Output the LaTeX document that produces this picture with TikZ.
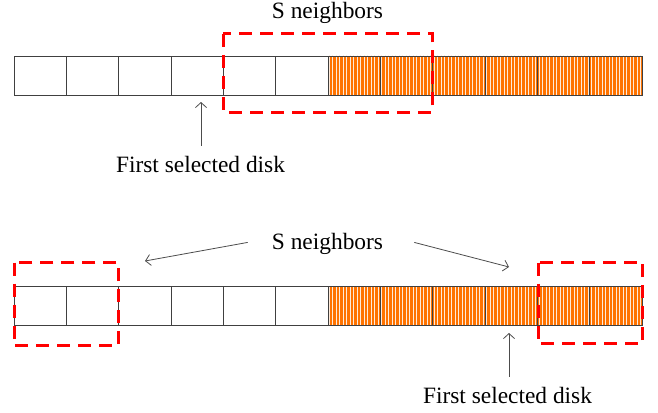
\documentclass[tikz,border=0pt]{standalone}
\usepackage{fontspec}
\setmainfont{Liberation Serif}
\usepackage{xcolor}
\usepackage{tikz}
\usetikzlibrary{positioning,calc,patterns.meta,arrows.meta}

\definecolor{diskorange}{RGB}{255,115,0}
\definecolor{nbrred}{RGB}{255,0,0}

\tikzset{
    disk/.style={draw=black!75, line width=0.8pt, minimum width=52.33pt, minimum height=39pt, inner sep=0pt, outer sep=0pt},
    busy/.style={disk, preaction={fill=diskorange}, pattern={Lines[angle=90, distance=3.5pt, line width=0.9pt]}, pattern color=white!85!diskorange},
    nbrbox/.style={draw=nbrred, line width=3pt, dash pattern=on 13pt off 8pt},
    ptr/.style={draw=black!70, line width=0.8pt, -{Straight Barb[length=5pt,width=11pt]}},
    label/.style={font=\fontsize{23.4}{28}\selectfont, inner sep=0pt, anchor=base}
}

\begin{document}
\begin{tikzpicture}[x=1pt, y=-1pt]
        \useasboundingbox (0,0) rectangle (658,412);

        % Disks, first row
        \foreach \i in {1,...,6}
            \node[disk] (c\i) at ({14+52.33*(\i-0.5)}, 75.5) {};
        \foreach \i in {7,...,12}
            \node[busy] (c\i) at ({14+52.33*(\i-0.5)}, 75.5) {};

        % Disks, second row
        \foreach \i in {1,...,6}
            \node[disk] (d\i) at ({14+52.33*(\i-0.5)}, 306) {};
        \foreach \i in {7,...,12}
            \node[busy] (d\i) at ({14+52.33*(\i-0.5)}, 306) {};

        % Neighbor windows
        \draw[nbrbox] ([yshift=22pt]c5.north west) rectangle ([yshift=-17pt]c8.south east);
        \draw[nbrbox] ([yshift=24pt]d1.north west) rectangle ([yshift=-20pt]d2.south east);
        \draw[nbrbox] ([xshift=1pt,yshift=24pt]d11.north west) rectangle ([xshift=1pt,yshift=-18pt]d12.south east);

        % Labels
        \node[label] (sn1) at (327.5, 19) {S neighbors};
        \node[label] (fsd1) at (200.5, 172) {First selected disk};
        \node[label] (sn2) at (327.5, 249) {S neighbors};
        \node[label] (fsd2) at (507.5, 403) {First selected disk};

        % Pointers
        \coordinate (tip1) at (201, 102);
        \coordinate (tip2) at (509, 333);
        \coordinate (tipl) at (145, 261);
        \coordinate (tipr) at (509, 267);
        \draw[ptr] ([xshift=0.5pt, yshift=10pt]fsd1.north) -- (tip1);
        \draw[ptr] ([xshift=1.5pt, yshift=10pt]fsd2.north) -- (tip2);
        \draw[ptr] ([xshift=-24pt, yshift=1pt]sn2.west) -- (tipl);
        \draw[ptr] ([xshift=31pt, yshift=1pt]sn2.east) -- (tipr);
    \end{tikzpicture}
\end{document}
